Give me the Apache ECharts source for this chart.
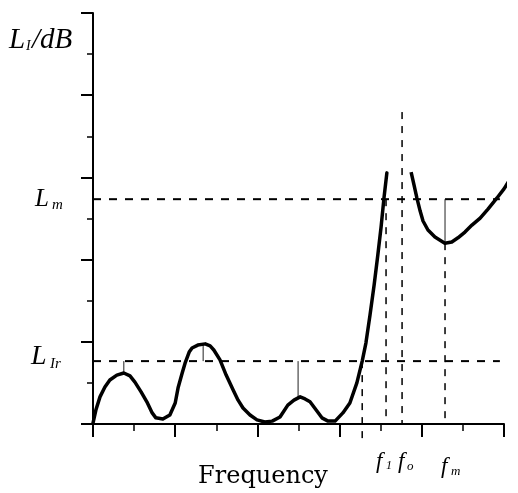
<!DOCTYPE html>
<html><head><meta charset="utf-8">
<script src="https://cdn.jsdelivr.net/npm/echarts@6/dist/echarts.min.js"></script>
<style>html,body{margin:0;padding:0;background:#fff}#c{width:518px;height:493px}</style>
</head><body><div id="c"></div>
<script>
// Low-frequency curve (below f1)
const lowX = [0,0.07,0.17,0.29,0.41,0.58,0.75,0.90,1.02,1.17,1.31,1.44,1.53,1.70,1.87,2.00,2.07,2.17,2.24,2.34,2.41,2.55,2.73,2.85,2.94,3.09,3.24,3.41,3.53,3.65,3.82,3.99,4.18,4.36,4.55,4.74,4.89,5.04,5.16,5.28,5.43,5.57,5.72,5.89,6.08,6.25,6.42,6.55,6.64,6.74,6.84,6.93,7.01,7.08,7.15];
const lowY = [0.02,0.34,0.66,0.90,1.07,1.19,1.24,1.17,1.02,0.78,0.54,0.27,0.15,0.12,0.22,0.51,0.88,1.24,1.48,1.75,1.85,1.92,1.95,1.90,1.80,1.56,1.19,0.83,0.58,0.39,0.22,0.10,0.05,0.07,0.17,0.46,0.58,0.66,0.61,0.54,0.34,0.15,0.07,0.07,0.27,0.51,1.00,1.53,1.97,2.65,3.38,4.11,4.80,5.50,6.11];
// High-frequency curve (above fo)
const highX = [7.74,7.81,7.88,7.96,8.03,8.15,8.32,8.56,8.73,8.88,9.05,9.22,9.42,9.61,9.83,10.0,10.17,10.32];
const highY = [6.13,5.82,5.50,5.18,4.94,4.72,4.55,4.40,4.43,4.53,4.67,4.84,5.01,5.23,5.50,5.72,5.99,6.23];
// Reference levels
const levelLm = 5.47;
const levelLIr = 1.53;
const levelEndX = 9.9;
// Reference frequencies
const fCross = 6.55, f1 = 7.13, fo = 7.52, fm = 8.565;
const foTop = 7.59, fmMin = 4.40, crossBottom = -0.4;
// Peak markers: [x, curve peak y]
const peakX = [0.75, 2.68, 4.99];
const peakY = [1.24, 1.95, 0.63];

const zip = (xs, ys) => xs.map((x, i) => [x, ys[i]]);
const black = '#000';
const dashedH = {type: [8, 8], width: 2, color: black};
const dashedV = {type: [7, 7], width: 1.5, color: black};
const thin = {type: 'solid', width: 1, color: '#222'};

function seg(data, ls, clip) {
  return {type: 'line', data: data, symbol: 'none', lineStyle: ls, clip: clip !== false, silent: true, z: 2, animation: false};
}

const series = [
  {type: 'line', data: zip(lowX, lowY), smooth: false, symbol: 'none', lineStyle: {color: black, width: 3.5, join: 'round', cap: 'round'}, z: 5, animation: false},
  {type: 'line', data: zip(highX, highY), smooth: false, symbol: 'none', clip: false, lineStyle: {color: black, width: 3.5, join: 'round'}, z: 5, animation: false},
  seg([[0, levelLm], [levelEndX, levelLm]], dashedH),
  seg([[0, levelLIr], [levelEndX, levelLIr]], dashedH),
  seg([[fCross, levelLIr], [fCross, crossBottom]], dashedV, false),
  seg([[f1, levelLm], [f1, 0]], dashedV),
  seg([[fo, foTop], [fo, 0]], dashedV),
  seg([[fm, fmMin], [fm, 0]], dashedV),
  seg([[fm, levelLm], [fm, fmMin]], thin)
];
peakX.forEach((x, i) => series.push(seg([[x, levelLIr], [x, peakY[i]]], thin)));

const serif = 'Liberation Serif';
function txt(t, x, y, size, italic, family) {
  return {type: 'text', x: x, y: y, silent: true, style: {text: t, fill: black, font: (italic ? 'italic ' : '') + size + 'px "' + (family || serif) + '"', textAlign: 'left', textVerticalAlign: 'middle'}};
}

const chart = echarts.init(document.getElementById('c'), null, {renderer: 'canvas'});
chart.setOption({
  animation: false,
  backgroundColor: '#fff',
  grid: {left: 93, right: 14, top: 13, bottom: 69},
  xAxis: {
    type: 'value', min: 0, max: 10, interval: 2,
    axisLine: {show: true, onZero: false, lineStyle: {color: black, width: 2}},
    axisTick: {show: true, length: 13, lineStyle: {color: black, width: 2}},
    minorTick: {show: true, splitNumber: 2, length: 7, lineStyle: {color: black, width: 1.5}},
    axisLabel: {show: false}, splitLine: {show: false}, minorSplitLine: {show: false}
  },
  yAxis: {
    type: 'value', min: 0, max: 10, interval: 2,
    axisLine: {show: true, onZero: false, lineStyle: {color: black, width: 2}},
    axisTick: {show: true, length: 12, lineStyle: {color: black, width: 2}},
    minorTick: {show: true, splitNumber: 2, length: 6, lineStyle: {color: black, width: 1.5}},
    axisLabel: {show: false}, splitLine: {show: false}, minorSplitLine: {show: false}
  },
  graphic: [
    txt('L', 9, 40, 29, true),
    txt('I', 26, 46, 14, true),
    txt('/dB', 32, 40, 29, true),
    txt('L', 35, 199, 25, true),
    txt('m', 52, 205, 15, true),
    txt('L', 31, 357, 28, true),
    txt('Ir', 50, 364, 15, true),
    {type: 'text', x: 263, y: 477, silent: true, style: {text: 'Frequency', fill: black, font: '24px "DejaVu Serif"', textAlign: 'center', textVerticalAlign: 'middle'}},
    txt('f', 376, 462, 23, true),
    txt('1', 386, 466, 12, true),
    txt('f', 398, 462, 23, true),
    txt('o', 407, 467, 13, true),
    txt('f', 441, 467, 23, true),
    txt('m', 451, 472, 13, true)
  ],
  series: series
});
</script>
</body></html>
